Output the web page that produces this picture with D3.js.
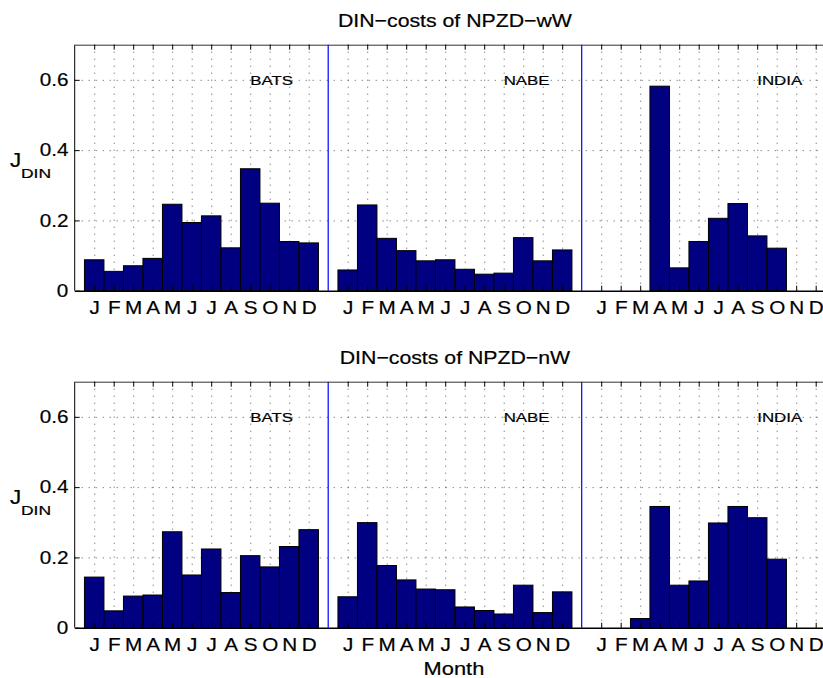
<!DOCTYPE html>
<html>
<head>
<meta charset="utf-8">
<script src="https://cdn.jsdelivr.net/npm/d3@7"></script>
<style>
  body { margin: 0; background: #fff; overflow: hidden; }
  svg { font-family: "Liberation Sans", Arial, Helvetica, sans-serif; overflow: hidden; display: block; }
  svg text { stroke: #000; stroke-width: 0.2; }
  .grid line { stroke: #555; stroke-dasharray: 1,6; stroke-width: 1; }
  .grid path { display: none; }
</style>
</head>
<body>
<svg id="chart"></svg>
<script>
// month labels, sites and y ticks
const months = ["J", "F", "M", "A", "M", "J", "J", "A", "S", "O", "N", "D"];
const sites = ["BATS", "NABE", "INDIA"];
const yTicks = [0, 0.2, 0.4, 0.6];
const titles = ["DIN\u2212costs of NPZD\u2212wW", "DIN\u2212costs of NPZD\u2212nW"];

// NPZD-wW costs per month
const wwBATS  = [0.088, 0.055, 0.071, 0.092, 0.246, 0.194, 0.213, 0.122, 0.347, 0.249, 0.140, 0.136];
const wwNABE  = [0.059, 0.244, 0.149, 0.114, 0.085, 0.088, 0.061, 0.047, 0.050, 0.151, 0.085, 0.116];
const wwINDIA = [0, 0, 0, 0.582, 0.065, 0.140, 0.206, 0.248, 0.156, 0.121, 0, 0];

// NPZD-nW costs per month
const nwBATS  = [0.144, 0.048, 0.090, 0.093, 0.273, 0.150, 0.224, 0.100, 0.205, 0.173, 0.231, 0.279];
const nwNABE  = [0.088, 0.299, 0.177, 0.136, 0.110, 0.108, 0.059, 0.049, 0.039, 0.121, 0.043, 0.102];
const nwINDIA = [0, 0, 0.026, 0.345, 0.121, 0.133, 0.298, 0.345, 0.313, 0.195, 0, 0];

const panels = [
  { title: titles[0], series: [wwBATS, wwNABE, wwINDIA], top: 44.7, bottom: 290.7 },
  { title: titles[1], series: [nwBATS, nwNABE, nwINDIA], top: 381.7, bottom: 627.7 }
];

const width = 823, height = 678;
const svg = d3.select('#chart')
    .attr('width', width)
    .attr('height', height);

const sx = 1.15; // horizontal stretch of the text in the original

const x = d3.scaleLinear()
    .domain([0, 39])
    .range([74.7, 835.2]);

const unit = x(1) - x(0);
const tickPos = [];
const tickLab = [];
sites.forEach((s, si) => months.forEach((m, mi) => {
  tickPos.push(1 + si * 13 + mi);
  tickLab.push(m);
}));

function drawPanel(p) {
  const y = d3.scaleLinear()
      .domain([0, 0.7])
      .range([p.bottom, p.top]);

  const g = svg.append('g');

  // grid
  g.append('g')
    .attr('class', 'grid')
    .attr('transform', `translate(0, ${p.bottom})`)
    .call(d3.axisBottom(x).tickValues(tickPos).tickSize(-(p.bottom - p.top)).tickFormat(''));

  g.append('g')
    .attr('class', 'grid')
    .attr('transform', `translate(${x(0)}, 0)`)
    .call(d3.axisLeft(y).tickValues(yTicks.slice(1)).tickSize(-(x(39) - x(0))).tickFormat(''));

  // bars
  const bars = [];
  p.series.forEach((vals, si) => vals.forEach((v, mi) => {
    if (v > 0) bars.push({ idx: 1 + si * 13 + mi, v: v });
  }));

  g.selectAll()
    .data(bars)
    .enter()
    .append('rect')
    .attr('x', d => x(d.idx - 0.5))
    .attr('y', d => y(d.v))
    .attr('width', unit)
    .attr('height', d => y(0) - y(d.v))
    .attr('fill', '#000080')
    .attr('stroke', '#000')
    .attr('stroke-width', 1);

  // separators
  g.selectAll()
    .data([13, 26])
    .enter()
    .append('line')
    .attr('x1', d => x(d)).attr('x2', d => x(d))
    .attr('y1', y(0.7)).attr('y2', y(0))
    .attr('stroke', '#0000ff')
    .attr('stroke-width', 1.2);

  // site labels
  g.selectAll()
    .data(sites)
    .enter()
    .append('text')
    .attr('transform', (d, i) => `translate(${x(9 + 13 * i)}, ${y(0.6) + 5.5}) scale(1.25, 1)`)
    .attr('font-size', 13.5)
    .attr('fill', '#000')
    .text(d => d);

  // top box ticks
  const topAxis = g.append('g')
    .attr('transform', `translate(0, ${p.top})`)
    .call(d3.axisTop(x).tickValues(tickPos).tickSize(-5).tickSizeOuter(0).tickFormat(''));
  topAxis.select('.domain').attr('stroke', '#333');

  // bottom axis with month letters
  const bottomAxis = g.append('g')
    .attr('transform', `translate(0, ${p.bottom})`)
    .call(d3.axisBottom(x).tickValues(tickPos).tickSize(-5).tickSizeOuter(0).tickPadding(11)
      .tickFormat((d, i) => tickLab[i]));
  bottomAxis.select('.domain').attr('stroke-width', 1.6);
  bottomAxis.selectAll('text')
    .attr('font-size', 18)
    .attr('font-family', null)
    .attr('fill', '#000')
    .attr('transform', `scale(${sx}, 1)`);

  // left axis
  const leftAxis = g.append('g')
    .attr('transform', `translate(${x(0)}, 0)`)
    .call(d3.axisLeft(y).tickValues(yTicks).tickSize(-5).tickSizeOuter(0).tickPadding(5.5)
      .tickFormat(d => d === 0 ? '0' : d.toFixed(1)));
  leftAxis.select('.domain').attr('d', `M0,${p.top}V${p.bottom}`);
  leftAxis.selectAll('text')
    .attr('font-size', 18)
    .attr('font-family', null)
    .attr('fill', '#000')
    .attr('transform', `scale(${sx}, 1)`);

  // title
  svg.append('text')
    .attr('transform', `translate(${(x(0) + x(39)) / 2}, ${p.top - 17.5}) scale(${sx}, 1)`)
    .attr('text-anchor', 'middle')
    .attr('font-size', 18.5)
    .text(p.title);

  // y label J_DIN
  const mid = p.top + 122;
  svg.append('text')
    .attr('transform', `translate(10, ${mid}) scale(${sx}, 1)`)
    .attr('font-size', 19.5)
    .text('J');
  svg.append('text')
    .attr('transform', `translate(21, ${mid + 11}) scale(1.4, 1)`)
    .attr('font-size', 12.5)
    .text('DIN');
}

panels.forEach(drawPanel);

svg.append('text')
  .attr('transform', `translate(${(x(0) + x(39)) / 2 - 1}, 675) scale(${sx}, 1)`)
  .attr('text-anchor', 'middle')
  .attr('font-size', 19)
  .text('Month');
</script>
</body>
</html>
